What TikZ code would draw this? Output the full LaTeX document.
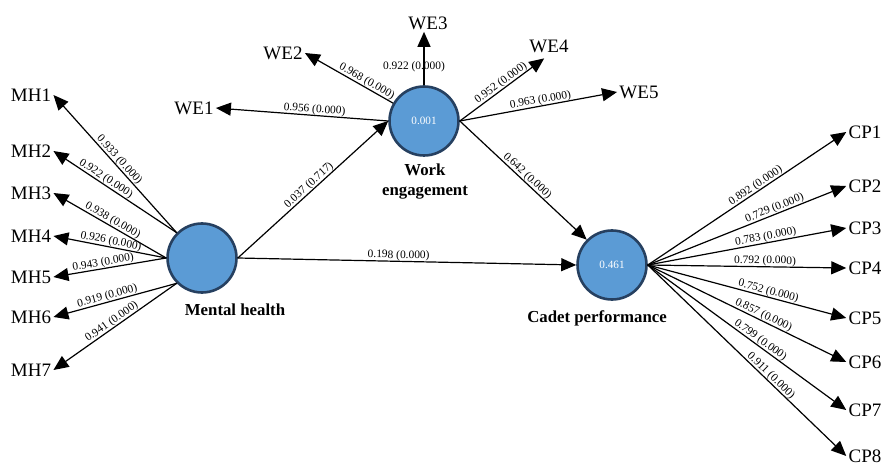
\documentclass[tikz,border=0pt]{standalone}
\usepackage{fontspec}
\setmainfont{Liberation Serif}
\usetikzlibrary{arrows.meta}
\definecolor{lvfill}{RGB}{91, 155, 213}
\definecolor{lvborder}{RGB}{38, 64, 96}

\begin{document}
\begin{tikzpicture}[x=0.5pt, y=-0.5pt,
  lv/.style={draw=lvborder, fill=lvfill, circle, line width=1.3pt, minimum size=34.5pt, inner sep=0pt, text=white, font=\fontsize{5.6}{6}\selectfont},
  lvname/.style={font=\fontsize{8.4}{10}\selectfont\bfseries, align=center},
  ind/.style={font=\fontsize{9.5}{11}\selectfont, inner sep=1pt},
  arr/.style={-{Triangle[length=7.5pt, width=6.5pt]}, line width=0.6pt},
  val/.style={inner sep=0pt, font=\fontsize{5.7}{6}\selectfont},
  lbl/.style={val, sloped, above}]
  \useasboundingbox (0,0) rectangle (886,464);

  % Latent variables
  \node[lv] (mh) at (202,258) {};
  \node[lv] (we) at (424,121) {0.001};
  \node[lv] (cp) at (612,265) {0.461};
  \node[lvname] (mhname) at (235,310) {Mental health};
  \node[lvname] (wename) at (425,182) {Work\\engagement};
  \node[lvname] (cpname) at (597,318) {Cadet performance};

  % Mental health indicators
  \node[ind] (mh1) at (31,95) {MH1};
  \node[ind] (mh2) at (31,151) {MH2};
  \node[ind] (mh3) at (31,193) {MH3};
  \node[ind] (mh4) at (31,236) {MH4};
  \node[ind] (mh5) at (31,277) {MH5};
  \node[ind] (mh6) at (31,317) {MH6};
  \node[ind] (mh7) at (31,370) {MH7};
  \draw[arr] (mh.135) -- node[lbl] {0.933 (0.000)} (mh1.east);
  \draw[arr] (mh.135) -- node[lbl, pos=0.6] {0.922 (0.000)} (mh2.east);
  \draw[arr] (mh.west) -- node[lbl] {0.938 (0.000)} (mh3.east);
  \draw[arr] (mh.west) -- node[lbl] {0.926 (0.000)} (mh4.east);
  \draw[arr] (mh.west) -- node[lbl, pos=0.55] {0.943 (0.000)} (mh5.east);
  \draw[arr] (mh.225) -- node[lbl, pos=0.55] {0.919 (0.000)} (mh6.east);
  \draw[arr] (mh.225) -- node[lbl] {0.941 (0.000)} (mh7.east);

  % Work engagement indicators
  \node[ind] (we1) at (194,108) {WE1};
  \node[ind] (we2) at (283,53) {WE2};
  \node[ind] (we3) at (428,23) {WE3};
  \node[ind] (we4) at (549,46) {WE4};
  \node[ind] (we5) at (639,92) {WE5};
  \draw[arr] (we.west) -- node[lbl, pos=0.43] {0.956 (0.000)} (we1.east);
  \draw[arr] (we.150) -- node[lbl, pos=0.33] {0.968 (0.000)} (we2.east);
  \draw[arr] (we.north) -- node[val, pos=0.35, xshift=-5pt] {0.922 (0.000)} (we.north |- we3.south);
  \draw[arr, shorten >=3pt] (we.east) -- node[lbl] {0.952 (0.000)} (we4.south);
  \draw[arr] (we.east) -- node[lbl, pos=0.52] {0.963 (0.000)} (we5.west);

  % Cadet performance indicators
  \node[ind] (cp1) at (865,132) {CP1};
  \node[ind] (cp2) at (865,186) {CP2};
  \node[ind] (cp3) at (865,228) {CP3};
  \node[ind] (cp4) at (865,268) {CP4};
  \node[ind] (cp5) at (865,318) {CP5};
  \node[ind] (cp6) at (865,362) {CP6};
  \node[ind] (cp7) at (865,410) {CP7};
  \node[ind] (cp8) at (865,456) {CP8};
  \draw[arr] (cp.east) -- node[lbl, pos=0.56] {0.892 (0.000)} (cp1.west);
  \draw[arr] (cp.east) -- node[lbl, pos=0.65] {0.729 (0.000)} (cp2.west);
  \draw[arr] (cp.east) -- node[lbl, pos=0.6] {0.783 (0.000)} (cp3.west);
  \draw[arr] (cp.east) -- node[lbl, pos=0.59] {0.792 (0.000)} (cp4.west);
  \draw[arr] (cp.east) -- node[lbl, pos=0.6] {0.752 (0.000)} (cp5.west);
  \draw[arr] (cp.east) -- node[lbl, pos=0.57] {0.857 (0.000)} (cp6.west);
  \draw[arr] (cp.east) -- node[lbl, pos=0.55] {0.799 (0.000)} (cp7.west);
  \draw[arr] (cp.east) -- node[lbl, pos=0.6] {0.911 (0.000)} (cp8.west);

  % Structural paths
  \draw[arr] (mh.east) -- node[lbl] {0.037 (0.717)} (we.west);
  \draw[arr] (mh.east) -- node[lbl, pos=0.475] {0.198 (0.000)} (cp.west);
  \draw[arr] (we.east) -- node[lbl] {0.642 (0.000)} (cp.135);
\end{tikzpicture}
\end{document}
